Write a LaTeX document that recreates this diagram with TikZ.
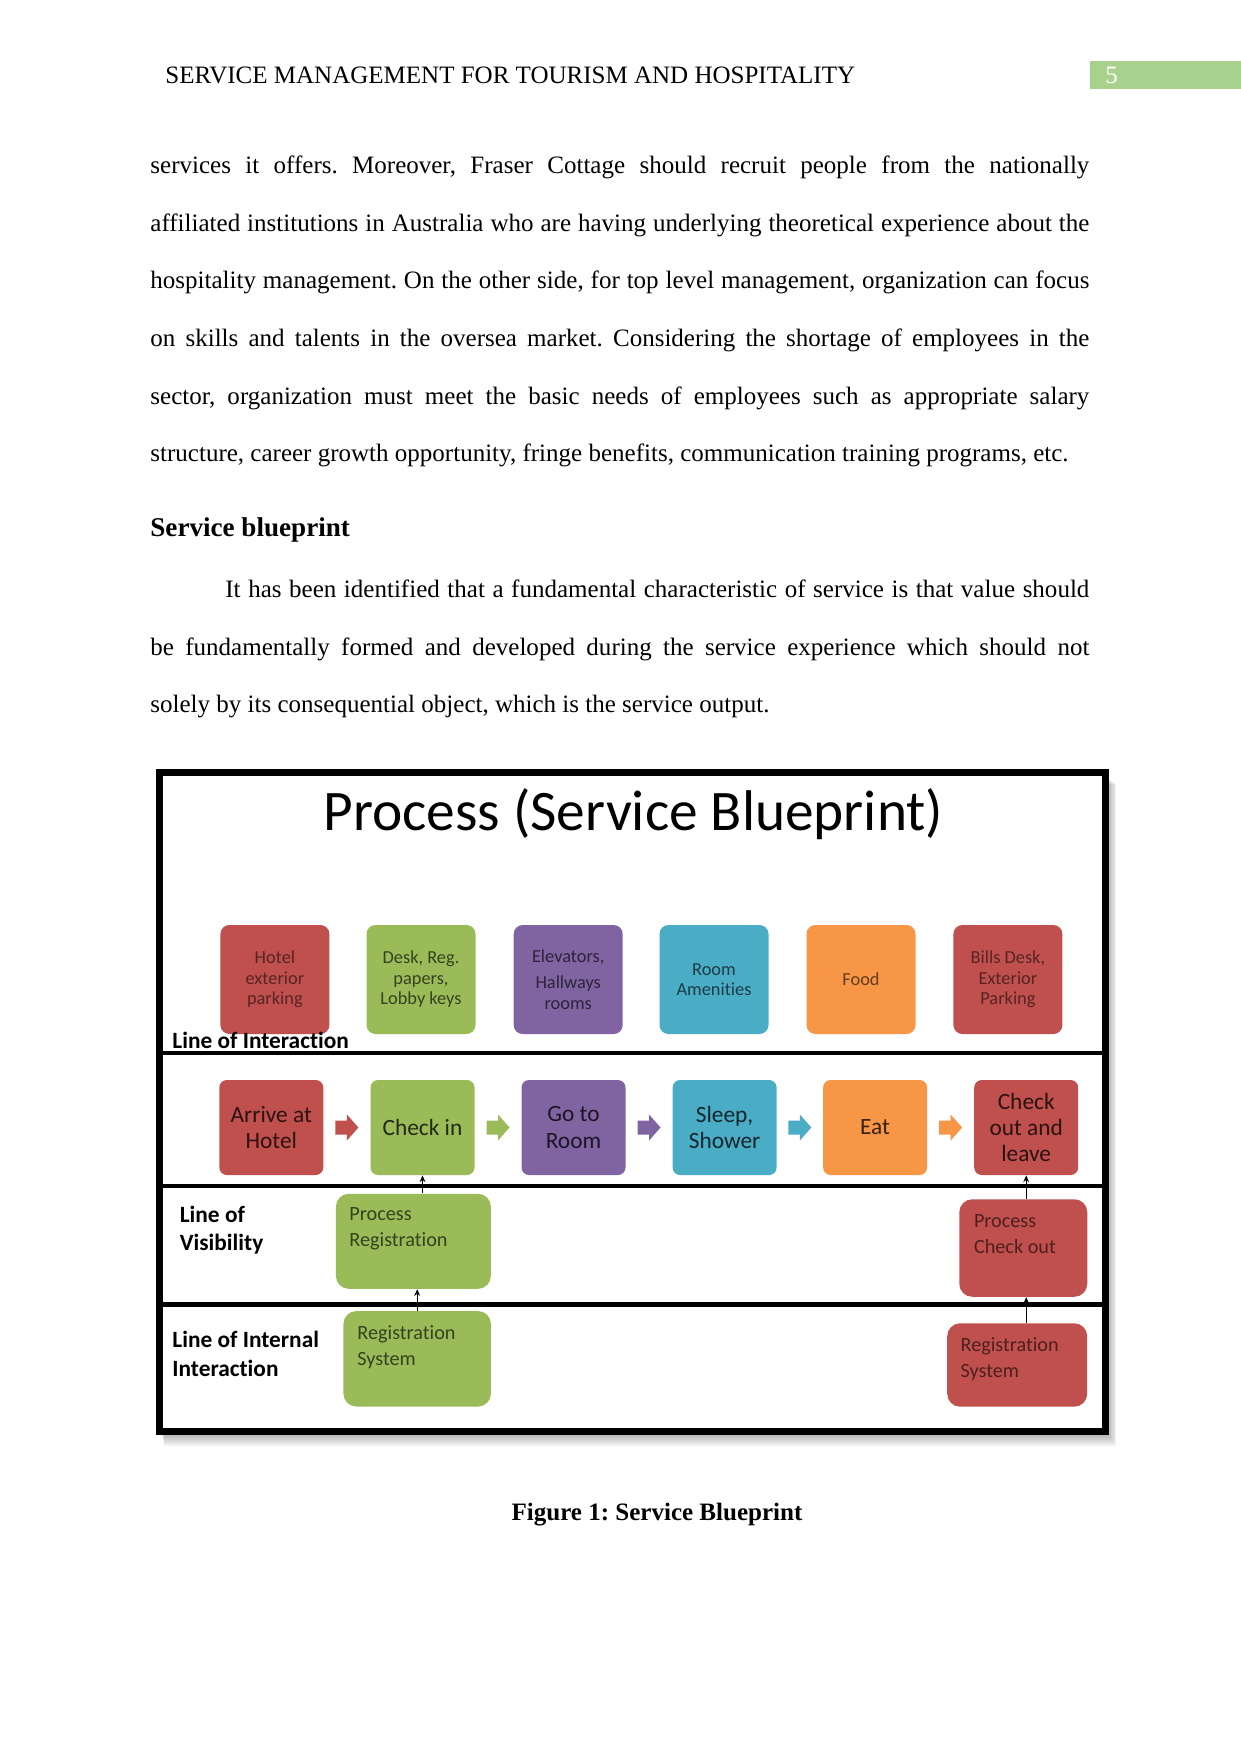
\documentclass[tikz,border=0pt]{standalone}
\usepackage{fontspec}
\setmainfont{Liberation Serif}
\newfontfamily\figfont[Ligatures=NoCommon]{Carlito}
\usetikzlibrary{calc,arrows.meta}
\frenchspacing
\definecolor{cred}{HTML}{C0504D}
\definecolor{cgreen}{HTML}{9BBB59}
\definecolor{cpurple}{HTML}{8064A2}
\definecolor{caqua}{HTML}{4BACC6}
\definecolor{corange}{HTML}{F79646}
\definecolor{hdrgreen}{HTML}{A9D18E}
\def\PX{0.47968pt}
\tikzset{
  bodyline/.style={anchor=base west, inner sep=0pt, font=\fontsize{12}{14}\selectfont},
  evid/.style={rounded corners=4.3pt, minimum width={109*\PX}, minimum height={109*\PX}, inner sep=0pt, align=center, font=\figfont\fontsize{8.8}{9.8}\selectfont},
  actbox/.style={rounded corners=3.6pt, minimum width={104*\PX}, minimum height={95*\PX}, inner sep=0pt, align=center, font=\figfont\fontsize{11.2}{12.5}\selectfont},
  supbox/.style={rounded corners=6.2pt, inner sep=0pt},
  suptext/.style={anchor=base west, inner sep=0pt, font=\figfont\fontsize{9.7}{12}\selectfont},
  lanelabel/.style={anchor=base west, inner sep=0pt, font=\figfont\bfseries\fontsize{11.2}{13}\selectfont},
  thinarrow/.style={-{Stealth[length=3.2pt,width=2.8pt]}, line width=0.5pt},
  barrow/.pic={\fill (-11.5,-7) -- (0,-7) -- (0,-13) -- (11.5,0) -- (0,13) -- (0,7) -- (-11.5,7) -- cycle;}
}
\begin{document}
\begin{tikzpicture}[x=\PX, y=-\PX]
\fill[white] (0,0) rectangle (1241,1754);
\useasboundingbox (0,0) rectangle (1241,1754);

% header
\node[bodyline] (hdr) at (165,83.7) {SERVICE MANAGEMENT FOR TOURISM AND HOSPITALITY};
\fill[hdrgreen] (1090,60.7) rectangle (1241,89.3);
\node[bodyline, text=white] (pagenum) at (1105,83.7) {5};

% paragraph 1
\node[bodyline] (p1a) at (150,173.5) {\makebox[450.4pt][s]{services it offers. Moreover, Fraser Cottage should recruit people from the nationally}};
\node[bodyline] (p1b) at (150,231.1) {\makebox[450.4pt][s]{affiliated institutions in Australia who are having underlying theoretical experience about the}};
\node[bodyline] (p1c) at (150,288.8) {\makebox[450.4pt][s]{hospitality management. On the other side, for top level management, organization can focus}};
\node[bodyline] (p1d) at (150,346.4) {\makebox[450.4pt][s]{on skills and talents in the oversea market. Considering the shortage of employees in the}};
\node[bodyline] (p1e) at (150,404.1) {\makebox[450.4pt][s]{sector, organization must meet the basic needs of employees such as appropriate salary}};
\node[bodyline] (p1f) at (150,461.7) {structure, career growth opportunity, fringe benefits, communication training programs, etc.};

% heading
\node[anchor=base west, inner sep=0pt, font=\bfseries\fontsize{13}{15}\selectfont] (head) at (150,536.5) {Service blueprint};

% paragraph 2
\node[bodyline] (p2a) at (225,597.5) {\makebox[414.4pt][s]{It has been identified that a fundamental characteristic of service is that value should}};
\node[bodyline] (p2b) at (150,655) {\makebox[450.4pt][s]{be fundamentally formed and developed during the service experience which should not}};
\node[bodyline] (p2c) at (150,712.7) {solely by its consequential object, which is the service output.};

% figure frame with shadow
\foreach \k in {1,...,6}
  \fill[black, opacity=0.05] (161+\k*0.5,778+\k) rectangle (1108+\k*1.4,1434+\k*2);
\draw[line width=3.36pt, fill=white] (159.7,772.5) rectangle (1105.3,1431);
\draw[line width=2.1pt] (159.7,1053) -- (1105.3,1053);
\draw[line width=2.1pt] (159.7,1186) -- (1105.3,1186);
\draw[line width=2.1pt] (159.7,1304.5) -- (1105.3,1304.5);

% title
\node[anchor=base, inner sep=0pt, font=\figfont\fontsize{27.5}{33}\selectfont] (title) at (633.5,830.7) {Process (Service Blueprint)};

% physical evidence row
\node[evid, fill=cred, text=cred!45!black] (e1) at (274.9,979.5) {Hotel\\exterior\\parking};
\node[evid, fill=cgreen, text=cgreen!35!black] (e2) at (421,979.5) {Desk, Reg.\\papers,\\Lobby keys};
\node[evid, fill=cpurple, text=cpurple!35!black] (e3) at (568.2,979.5) {Elevators,\\[3pt]Hallways\\rooms};
\node[evid, fill=caqua, text=caqua!35!black] (e4) at (714,979.5) {Room\\Amenities};
\node[evid, fill=corange, text=corange!40!black] (e5) at (861,979.5) {Food};
\node[evid, fill=cred, text=cred!45!black] (e6) at (1007.9,979.5) {Bills Desk,\\Exterior\\Parking};
\node[lanelabel] (l1) at (172,1048.7) {Line of Interaction};

% customer actions row
\node[actbox, fill=cred, text=cred!22!black] (a1) at (271.3,1127.5) {Arrive at\\Hotel};
\node[actbox, fill=cgreen, text=cgreen!22!black] (a2) at (422.5,1127.5) {Check in};
\node[actbox, fill=cpurple, text=cpurple!22!black] (a3) at (573.5,1127.5) {Go to\\Room};
\node[actbox, fill=caqua, text=caqua!22!black] (a4) at (724.6,1127.5) {Sleep,\\Shower};
\node[actbox, fill=corange, text=corange!22!black] (a5) at (875.1,1127.5) {Eat};
\node[actbox, fill=cred, text=cred!22!black] (a6) at (1026.2,1127.5) {Check\\out and\\leave};
\pic[fill=cred] at ($(a1.east)!0.5!(a2.west)$) {barrow};
\pic[fill=cgreen] at ($(a2.east)!0.5!(a3.west)$) {barrow};
\pic[fill=cpurple] at ($(a3.east)!0.5!(a4.west)$) {barrow};
\pic[fill=caqua] at ($(a4.east)!0.5!(a5.west)$) {barrow};
\pic[fill=corange] at ($(a5.east)!0.5!(a6.west)$) {barrow};

% visibility row
\node[lanelabel] (l2a) at (179.4,1222) {Line of};
\node[lanelabel] (l2b) at (179.4,1250.5) {Visibility};
\node[supbox, fill=cgreen, minimum width={155*\PX}, minimum height={95*\PX}] (pr) at (413.4,1241.3) {};
\node[suptext, text=cgreen!35!black] (prt1) at (349,1220.5) {Process};
\node[suptext, text=cgreen!35!black] (prt2) at (349,1246.5) {Registration};
\node[supbox, fill=cred, minimum width={128*\PX}, minimum height={97.5*\PX}] (pc) at (1023.3,1248) {};
\node[suptext, text=cred!40!black] (pct1) at (973.6,1227) {Process};
\node[suptext, text=cred!40!black] (pct2) at (973.6,1253.5) {Check out};

% internal row
\node[lanelabel] (l3a) at (172,1347.5) {Line of Internal};
\node[lanelabel] (l3b) at (172,1376) {Interaction};
\node[supbox, fill=cgreen, minimum width={147.5*\PX}, minimum height={95.5*\PX}] (rs) at (417.2,1358.8) {};
\node[suptext, text=cgreen!35!black] (rst1) at (357,1339.5) {Registration};
\node[suptext, text=cgreen!35!black] (rst2) at (357,1365.5) {System};
\node[supbox, fill=cred, minimum width={140*\PX}, minimum height={83.4*\PX}] (rs2) at (1017.2,1365) {};
\node[suptext, text=cred!40!black] (rs2t1) at (960.2,1351) {Registration};
\node[suptext, text=cred!40!black] (rs2t2) at (960.2,1377) {System};

% connectors
\draw[thinarrow] (a2.south |- pr.north) -- (a2.south);
\draw[thinarrow] (rs.north) -- (rs.north |- pr.south);
\draw[thinarrow] (a6.south |- pc.north) -- (a6.south);
\draw[thinarrow] (a6.south |- rs2.north) -- (a6.south |- pc.south);

% caption
\node[anchor=base, inner sep=0pt, font=\bfseries\fontsize{12}{14}\selectfont] (cap) at (657,1520) {Figure 1: Service Blueprint};
\end{tikzpicture}
\end{document}
